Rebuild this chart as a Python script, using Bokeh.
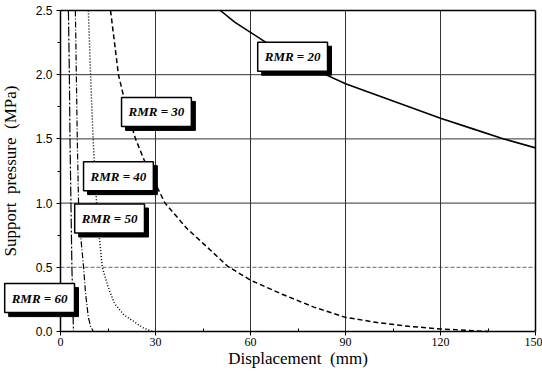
from bokeh.plotting import figure
from bokeh.models import Range1d, Label, FixedTicker, CustomJSTickFormatter
from bokeh.embed import file_html
from bokeh.resources import INLINE

# Displacement (mm) and support pressure (MPa)
rmr20_x = [50.5, 55, 60, 65, 70, 75, 82, 90, 100, 110, 120, 130, 140, 150]
rmr20_y = [2.50, 2.41, 2.33, 2.25, 2.17, 2.10, 2.02, 1.93, 1.84, 1.75, 1.66, 1.58, 1.50, 1.43]

rmr30_x = [15.8, 18.3, 21.0, 23.7, 27, 33, 40, 44, 52.7, 60, 70, 80, 90, 100, 110, 120, 135]
rmr30_y = [2.50, 2.00, 1.72, 1.50, 1.30, 1.00, 0.80, 0.71, 0.51, 0.40, 0.29, 0.19, 0.11, 0.07, 0.04, 0.02, 0.0]

rmr40_x = [8.8, 9.5, 10.3, 11.4, 12.2, 13.2, 15, 17, 20, 23, 26, 29]
rmr40_y = [2.50, 2.00, 1.50, 1.00, 0.75, 0.50, 0.35, 0.22, 0.13, 0.08, 0.03, 0.0]

rmr50_x = [4.7, 5.0, 5.3, 5.7, 6.3, 7.3, 7.9, 8.8, 9.5, 10.4]
rmr50_y = [2.50, 2.00, 1.50, 1.00, 0.76, 0.50, 0.30, 0.11, 0.04, 0.0]

rmr60_x = [2.5, 2.8, 3.0, 3.3, 3.6, 3.9, 4.1]
rmr60_y = [2.50, 2.00, 1.50, 1.00, 0.50, 0.20, 0.0]

labels = ["RMR = 20", "RMR = 30", "RMR = 40", "RMR = 50", "RMR = 60"]
x_ticks = [0, 30, 60, 90, 120, 150]
x_minor = [15, 45, 75, 105, 135]
y_ticks = [0.0, 0.5, 1.0, 1.5, 2.0, 2.5]
y_minor = [0.25, 0.75, 1.25, 1.75, 2.25]
x_grid = [30, 60, 90, 120]
y_grid = [0.5, 1.0, 1.5, 2.0]

X_MIN, X_MAX, Y_MIN, Y_MAX = 0, 150, 0, 2.5

# layout: the frame covers the whole canvas, so that the boxed label and the
# tick labels left of / below the axes are not clipped; axes are fixed at 0.
W, H = 542, 376
LEFT, RIGHT, TOP, BOTTOM = 60, 7, 10, 45
px_x = (X_MAX - X_MIN) / (W - LEFT - RIGHT)
px_y = (Y_MAX - Y_MIN) / (H - TOP - BOTTOM)

p = figure(width=W, height=H, output_backend="svg", toolbar_location=None,
           x_range=Range1d(X_MIN - LEFT * px_x, X_MAX + RIGHT * px_x),
           y_range=Range1d(Y_MIN - BOTTOM * px_y, Y_MAX + TOP * px_y))
p.min_border = 0
p.min_border_left = 0
p.min_border_right = 0
p.min_border_top = 0
p.min_border_bottom = 0
p.background_fill_color = "white"
p.border_fill_color = "white"
p.outline_line_color = None
p.grid.visible = False

p.xaxis.ticker = FixedTicker(ticks=x_ticks, minor_ticks=x_minor)
p.xaxis.bounds = (X_MIN, X_MAX)
p.xaxis.fixed_location = Y_MIN
p.yaxis.ticker = FixedTicker(ticks=y_ticks, minor_ticks=y_minor)
p.yaxis.bounds = (Y_MIN, Y_MAX)
p.yaxis.formatter = CustomJSTickFormatter(code="return tick.toFixed(1);")
p.yaxis.fixed_location = X_MIN

p.xaxis.axis_label = "Displacement\u00a0 (mm)"
p.yaxis.axis_label = "Support\u00a0 pressure\u00a0 (MPa)"
for ax in (p.xaxis, p.yaxis):
    ax.axis_line_color = "black"
    ax.axis_line_width = 1.5
    ax.major_tick_line_color = "black"
    ax.minor_tick_line_color = "black"
    ax.major_tick_out = 4
    ax.major_tick_in = 0
    ax.axis_label_text_font = "Liberation Serif"
    ax.axis_label_text_font_style = "normal"
    ax.axis_label_text_font_size = "17px"
    ax.axis_label_text_color = "black"
    ax.major_label_text_color = "black"
p.xaxis.minor_tick_in = 3
p.xaxis.minor_tick_out = 0
p.yaxis.minor_tick_in = 0
p.yaxis.minor_tick_out = 3
p.xaxis.major_label_text_font = "Liberation Serif"
p.xaxis.major_label_text_font_size = "12px"
p.xaxis.major_label_standoff = 2
p.yaxis.major_label_text_font = "Liberation Sans"
p.yaxis.major_label_text_font_size = "12px"
p.yaxis.major_label_standoff = 4
p.xaxis.axis_label_standoff = 0
p.yaxis.axis_label_standoff = 13

# grid lines, limited to the plot box
solid_y = [g for g in y_grid if g != 0.5]
faint_y = [g for g in y_grid if g == 0.5]
p.segment(x0=[X_MIN] * len(solid_y), y0=solid_y, x1=[X_MAX] * len(solid_y), y1=solid_y,
          line_color="#333333", line_width=1)
p.segment(x0=[X_MIN] * len(faint_y), y0=faint_y, x1=[X_MAX] * len(faint_y), y1=faint_y,
          line_color="#666666", line_width=1, line_dash="4 2")
p.segment(x0=x_grid, y0=[Y_MIN] * len(x_grid), x1=x_grid, y1=[Y_MAX] * len(x_grid),
          line_color="#333333", line_width=1)

# top and right sides of the plot box
p.segment(x0=[X_MIN, X_MAX], y0=[Y_MAX, Y_MIN], x1=[X_MAX, X_MAX], y1=[Y_MAX, Y_MAX],
          line_color="black", line_width=1.5)

p.line(rmr20_x, rmr20_y, line_color="black", line_width=1.6)
p.line(rmr30_x, rmr30_y, line_color="black", line_width=1.5, line_dash="5 3")
p.line(rmr40_x, rmr40_y, line_color="black", line_width=1.5, line_dash="1 2")
p.line(rmr50_x, rmr50_y, line_color="black", line_width=1.2, line_dash="6 2 1 2")
p.line(rmr60_x, rmr60_y, line_color="black", line_width=1.2, line_dash="10 2 2 2")

label_pos = [(73.3, 2.14), (30.3, 1.71), (18.3, 1.21), (15.5, 0.88), (-6.6, 0.26)]
for txt, (lx, ly) in zip(labels, label_pos):
    common = dict(x=lx, y=ly, text=txt, text_align="center", text_baseline="middle",
                  text_font="Liberation Serif", text_font_style="bold italic",
                  text_font_size="13px", padding=7)
    shadow = Label(x_offset=4, y_offset=-4, text_color="black",
                   background_fill_color="black", border_line_color="black", **common)
    box = Label(text_color="black", background_fill_color="white",
                border_line_color="black", border_line_width=1.5, **common)
    p.add_layout(shadow)
    p.add_layout(box)

open("out.html", "w").write(file_html(p, INLINE))
